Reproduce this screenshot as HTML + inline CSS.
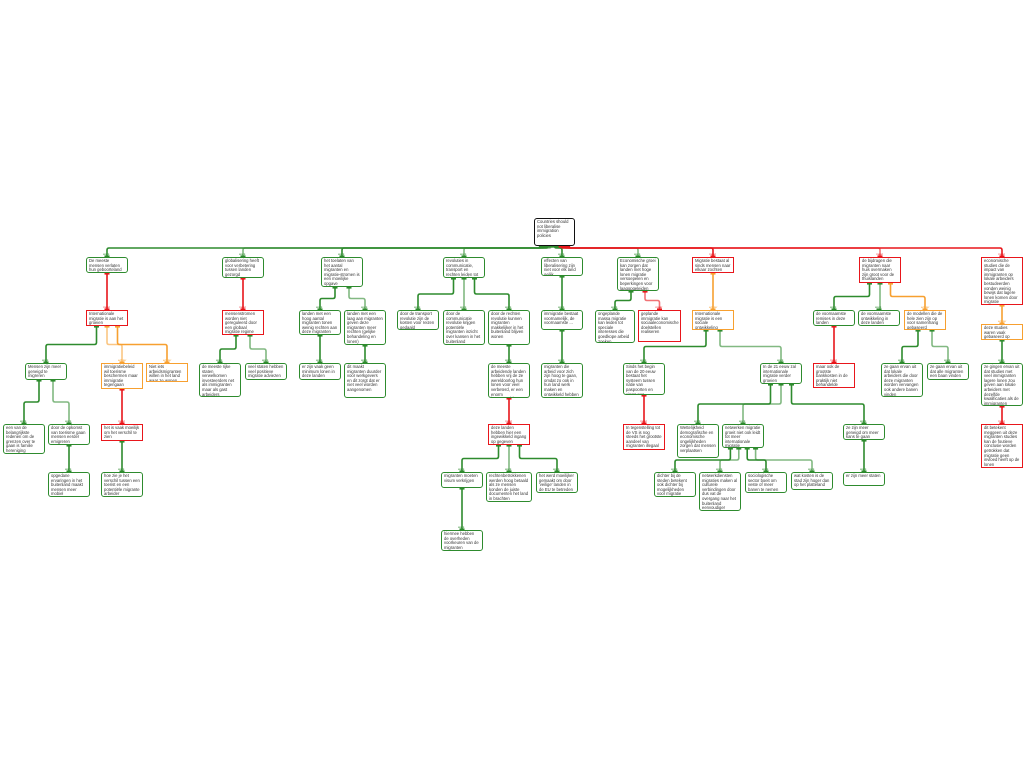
<!DOCTYPE html>
<html><head><meta charset="utf-8">
<style>
body{margin:0;background:#fff;width:1024px;height:768px;position:relative;overflow:hidden;font-family:"Liberation Sans",sans-serif;}
.b{position:absolute;box-sizing:border-box;width:42px;border:1.3px solid #2e8b2e;border-radius:3px;background:#fff;font-size:4.2px;line-height:4.6px;padding:1px 2px;color:#333;overflow:hidden;z-index:2}
.r{border-color:#e8161b;border-radius:0}
.o{border-color:#f7a030;border-radius:0}
.k{border-color:#111;border-width:1.5px}
svg{position:absolute;left:0;top:0;z-index:1}
</style></head><body>
<svg id="s" width="1024" height="768"></svg>
<div class="b k" id="root" style="left:534px;top:218px;width:41px;height:28px">Countries should not liberalise immigration policies</div>

<div class="b" id="A1" style="left:86px;top:257px;height:16px">De meeste mensen verlaten hun geboorteland niet</div>
<div class="b" id="A2" style="left:222px;top:257px;height:21px">globalisering heeft voor verbetering tussen landen gezorgd</div>
<div class="b" id="A3" style="left:321px;top:257px;height:30px">het toelaten van het aantal migranten en migratie-stromen is een moeilijke opgave</div>
<div class="b" id="A4" style="left:443px;top:257px;height:21px">revoluties in communicatie, transport en rechten leiden tot meer migratie</div>
<div class="b" id="A5" style="left:541px;top:257px;height:19px">effecten van liberalisering zijn niet voor elk land gelijk</div>
<div class="b" id="A6" style="left:617px;top:257px;height:34px">Economische groei kan zorgen dat landen met hoge lonen migratie versoepelen en beperkingen voor laagopgeleiden</div>
<div class="b r" id="A7" style="left:692px;top:257px;height:16px">Migratie bestaat al sinds mensen naar elkaar zochten</div>
<div class="b r" id="A8" style="left:859px;top:257px;height:26px">de bijdragen die migranten naar huis overmaken zijn groot voor de thuislanden</div>
<div class="b r" id="A9" style="left:981px;top:257px;height:48px">economische studies die de impact van immigranten op lokale arbeiders bestudeerden vonden weinig bewijs dat lagere lonen komen door migratie</div>

<div class="b r" id="B1" style="left:86px;top:310px;height:16px">Internationale migratie is aan het groeien</div>
<div class="b r" id="B2" style="left:222px;top:310px;height:25px">mensenstromen worden niet gereguleerd door een globaal migratie regime</div>
<div class="b" id="B3a" style="left:299px;top:310px;height:25px">landen met een hoog aantal migranten tonen weinig rechten aan deze migranten</div>
<div class="b" id="B3b" style="left:344px;top:310px;height:35px">landen met een laag aan migranten geven deze migranten meer rechten (gelijke behandeling en lonen)</div>
<div class="b" id="B4a" style="left:397px;top:310px;height:20px">door de transport revolutie zijn de kosten voor reizen gedaald</div>
<div class="b" id="B4b" style="left:443px;top:310px;height:35px">door de communicatie revolutie krijgen potentiële migranten inzicht over kansen in het buitenland</div>
<div class="b" id="B4c" style="left:488px;top:310px;height:35px">door de rechten revolutie kunnen migranten makkelijker in het buitenland blijven wonen</div>
<div class="b" id="B5" style="left:541px;top:310px;height:20px">immigratie bestaat voornamelijk, de voornaamste ...</div>
<div class="b" id="B6a" style="left:595px;top:310px;width:40px;height:33px">ongeplande massa migratie kan leiden tot speciale interesses die goedkope arbeid zoeken</div>
<div class="b r" id="B6b" style="left:638px;top:310px;width:43px;height:32px">geplande immigratie kan sociaaleconomische doelstellen realiseren</div>
<div class="b o" id="B7" style="left:692px;top:310px;height:20px">Internationale migratie is een sociale ontwikkeling</div>
<div class="b" id="B8a" style="left:813px;top:310px;height:16px">de voornaamste remises in deze landen</div>
<div class="b" id="B8b" style="left:858px;top:310px;height:16px">de voornaamste ontwikkeling in deze landen</div>
<div class="b o" id="B8c" style="left:904px;top:310px;height:20px">de modellen die de hele zien zijn op voor samenhang gebaseerd</div>
<div class="b o" id="B9" style="left:981px;top:324px;height:16px">deze studies waren vaak gebaseerd op aannames</div>

<div class="b" id="C1a" style="left:25px;top:363px;height:17px">Mensen zijn meer geneigd te migreren</div>
<div class="b o" id="C1b" style="left:101px;top:363px;height:26px">immigratiebeleid wil toerisme beschermen maar immigratie tegengaan</div>
<div class="b o" id="C1c" style="left:146px;top:363px;height:19px">Niet iets arbeidsmigranten willen in het land waar ze wonen</div>
<div class="b" id="C2a" style="left:199px;top:363px;height:34px">de meeste rijke staten verwelkomen investeerders net als immigranten maar als gast arbeiders</div>
<div class="b" id="C2b" style="left:245px;top:363px;height:17px">veel staten hebben veel positieve migratie adviezen</div>
<div class="b" id="C3a" style="left:299px;top:363px;height:17px">er zijn vaak geen minimum lonen in deze landen</div>
<div class="b" id="C3b" style="left:344px;top:363px;height:35px">dit maakt migranten duurder voor werkgevers en dit zorgt dat er niet veel worden aangenomen</div>
<div class="b" id="C4" style="left:488px;top:363px;height:35px">de meeste arbeidende landen hebben vrij de 2e wereldoorlog hun lonen voor veel verbeterd, er een enorm ingangsgebleven</div>
<div class="b" id="C5" style="left:541px;top:363px;height:35px">migranten die arbeid voor zich zijn hoog te gaan, omdat zo ook in hun land werk maken en ontwikkeld hebben</div>
<div class="b" id="C7a" style="left:623px;top:363px;height:32px">Sinds het begin van de 20 eeuw bestaat het systeem tussen natie van paspoorten en visa's pas</div>
<div class="b" id="C7b" style="left:760px;top:363px;height:21px">In de 21 eeuw zal internationale migratie verder groeien</div>
<div class="b r" id="C8a" style="left:813px;top:363px;height:25px">maar ook de grootste bankkosten in de praktijk niet behandelde meeste remise</div>
<div class="b" id="C8b" style="left:881px;top:363px;height:34px">ze gaan ervan uit dat lokale arbeiders die door deze migranten worden vervangen ook andere banen vinden</div>
<div class="b" id="C8c" style="left:927px;top:363px;height:17px">ze gaan ervan uit dat alle migranten een baan vinden</div>
<div class="b" id="C9" style="left:981px;top:363px;height:43px">ze gingen ervan uit dat studies met veel immigranten lagere lonen zou geven aan lokale arbeiders met dezelfde kwalificaties als de immigranten</div>

<div class="b" id="D1a" style="left:3px;top:424px;height:30px">een van de belangrijkste redenen om de grenzen over te gaan is familie hereniging</div>
<div class="b" id="D1b" style="left:48px;top:424px;height:21px">door de opkomst van toerisme gaan mensen eerder emigreren</div>
<div class="b r" id="D1c" style="left:101px;top:424px;height:17px">het is vaak moeilijk om het verschil te zien</div>
<div class="b r" id="D4" style="left:488px;top:424px;height:21px">deze landen hebben hier een ingewikkeld ingang op gegeven</div>
<div class="b r" id="D7a" style="left:623px;top:424px;height:26px">In tegenstelling tot de VS is nog steeds het grootste aandeel van migranten illegaal</div>
<div class="b" id="D7b" style="left:677px;top:424px;height:34px">Wettelijkheid demografische en economische ongelijkheden zorgen dat mensen verplaatsen</div>
<div class="b" id="D7c" style="left:722px;top:424px;height:24px">netwerken migratie groeit niet ook leidt tot meer internationale migratie</div>
<div class="b" id="D7d" style="left:843px;top:424px;height:16px">ze zijn meer geneigd om meer kans te gaan</div>
<div class="b r" id="D9" style="left:981px;top:424px;height:44px">dit betekent meggeen uit deze migranten studies kan de foutieve conclusie worden getrokken dat migratie geen invloed heeft op de lonen</div>

<div class="b" id="E1a" style="left:48px;top:472px;height:25px">opgedane ervaringen in het buitenland maakt mensen meer mobiel</div>
<div class="b" id="E1c" style="left:101px;top:472px;height:25px">hoe zie je het verschil tussen een toerist en een potentiële migrante arbeider</div>
<div class="b" id="E4a" style="left:441px;top:472px;height:16px">migranten moeten visum verkrijgen</div>
<div class="b" id="E4b" style="left:486px;top:472px;width:46px;height:30px">rechtenbetrokkenen werden hoog betaald als ze mensen konden de juiste documenten het land in brachten</div>
<div class="b" id="E4c" style="left:536px;top:472px;height:21px">het werd moeilijker gemaakt om door 'veilige' landen in de EU te betreden</div>
<div class="b" id="E7a" style="left:654px;top:472px;height:25px">dichter bij de steden betekent ook dichter bij mogelijkheden voor migratie</div>
<div class="b" id="E7b" style="left:699px;top:472px;height:39px">netwerkdiensten migraties maken al culturele verbindingen door dus vat de overgang naar het buitenland eenvoudiger</div>
<div class="b" id="E7c" style="left:745px;top:472px;height:21px">sociologische sector boeit om veste of meer banen te nemen</div>
<div class="b" id="E7d" style="left:791px;top:472px;height:18px">wat kosten is de stad zijn hoger dan op het platteland</div>
<div class="b" id="E7e" style="left:843px;top:472px;height:14px">er zijn meer staten</div>

<div class="b" id="F4" style="left:441px;top:530px;height:21px">hiermee hebben de overheden voorkeuren van de migranten</div>

<script>
var E=[["root","A1","g"],["root","A2","g"],["root","A3","g"],["root","A4","g"],["root","A5","g"],["root","A6","g"],["root","A7","r"],["root","A8","r"],["root","A9","r"],
["A1","B1","r"],["A2","B2","r"],["A3","B3a","g"],["A3","B3b","g"],["A4","B4a","g"],["A4","B4b","g"],["A4","B4c","g"],["A5","B5","g"],["A6","B6a","g"],["A6","B6b","r"],["A7","B7","o"],["A8","B8a","g"],["A8","B8b","g"],["A8","B8c","o"],["A9","B9","o"],
["B1","C1a","g"],["B1","C1b","o"],["B1","C1c","o"],["B2","C2a","g"],["B2","C2b","g"],["B3a","C3a","g"],["B3b","C3b","g"],["B4c","C4","g"],["B5","C5","g"],["B7","C7a","g"],["B7","C7b","g"],["B8a","C8a","r"],["B8c","C8b","g"],["B8c","C8c","g"],["B9","C9","g"],
["C1a","D1a","g"],["C1a","D1b","g"],["C1b","D1c","r"],["C4","D4","r"],["C7a","D7a","r"],["C7b","D7b","g"],["C7b","D7c","g"],["C7b","D7d","g"],["C9","D9","r"],
["D1b","E1a","g"],["D1c","E1c","g"],["D4","E4a","g"],["D4","E4b","g"],["D4","E4c","g"],["D7c","E7a","g"],["D7c","E7b","g"],["D7c","E7c","g"],["D7c","E7d","g"],["D7d","E7e","g"],["E4a","F4","g"]];
var C={g:"#2e8b2e",r:"#e8161b",o:"#f7a030"},L={g:"want",r:"maar",o:"echter"};
function R(id){var e=document.getElementById(id);return{x:e.offsetLeft,y:e.offsetTop,w:e.offsetWidth,h:e.offsetHeight};}
var cnt={},idx={};E.forEach(function(e){cnt[e[0]]=(cnt[e[0]]||0)+1;});
var s="";
E.forEach(function(e){var p=R(e[0]),c=R(e[1]);var n=cnt[e[0]];idx[e[0]]=(idx[e[0]]||0)+1;var i=idx[e[0]];
var px,pb=p.y+p.h,cx=c.x+c.w/2,ct=c.y,my;
if(e[0]=="root"){px=p.x+4+(p.w-8)*i/(n+1);my=248;}else{px=p.x+p.w*i/(n+1);my=(pb+ct)/2;}
var col=C[e[2]],op=(i%2?1:0.6);
var d;if(Math.abs(px-cx)<3)d="M"+px+","+pb+"V"+ct;else{var sg=cx>px?1:-1;d="M"+px+","+pb+"V"+(my-2)+"Q"+px+","+my+" "+(px+2*sg)+","+my+"H"+(cx-2*sg)+"Q"+cx+","+my+" "+cx+","+(my+2)+"V"+ct;}
s+='<path d="'+d+'" fill="none" stroke="'+col+'" stroke-width="1.6" stroke-opacity="'+op+'"/>';
s+='<rect x="'+(px-2.5)+'" y="'+pb+'" width="5" height="1.6" fill="'+col+'"/>';
s+='<rect x="'+(cx-2.5)+'" y="'+(ct-1.6)+'" width="5" height="1.6" fill="'+col+'"/>';
s+='<text x="'+(cx-4)+'" y="'+(ct-2)+'" font-size="3" fill="'+col+'" font-family="Liberation Sans">'+L[e[2]]+'</text>';
});
document.getElementById("s").innerHTML=s;
</script>
</body></html>
